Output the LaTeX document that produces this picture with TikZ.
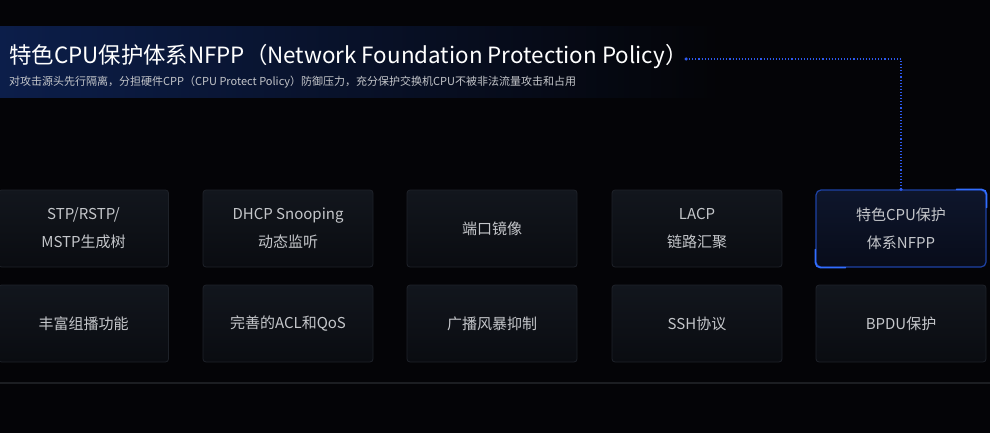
\documentclass[tikz,border=0pt]{standalone}
\usepackage{fontspec}
\setmainfont{Noto Sans CJK SC}
\definecolor{bg}{RGB}{4,4,7}
\definecolor{band}{RGB}{12,30,74}
\definecolor{boxtop}{RGB}{18,22,29}
\definecolor{boxbot}{RGB}{10,12,17}
\definecolor{boxline}{RGB}{30,34,41}
\definecolor{txt}{RGB}{196,198,202}
\definecolor{hidim}{RGB}{30,66,165}
\definecolor{hilite}{RGB}{50,110,255}
\definecolor{hitop}{RGB}{14,22,44}
\definecolor{hibot}{RGB}{8,12,26}
\definecolor{dotblue}{RGB}{45,90,240}
\definecolor{rule}{RGB}{28,30,34}
\tikzset{
  featbox/.style={rectangle, rounded corners=3pt, minimum width=170pt, minimum height=77pt,
    draw=boxline, line width=0.8pt, top color=boxtop, bottom color=boxbot, text=txt,
    font=\fontsize{15}{28}\selectfont, align=center, inner sep=0pt},
  hibox/.style={featbox, rounded corners=5pt, draw=hidim, line width=1.2pt, top color=hitop, bottom color=hibot},
  glow/.style={draw=hilite, line width=1.6pt, rounded corners=5pt, line cap=round},
  link/.style={draw=dotblue, line width=1.1pt, dotted},
  enddot/.style={circle, fill=dotblue, inner sep=0pt, minimum size=3.5pt}
}
\begin{document}
\begin{tikzpicture}[x=1pt,y=-1pt]
\fill[bg] (0,0) rectangle (990,433);
\useasboundingbox (0,0) rectangle (990,433);
\shade[left color=band, right color=bg] (0,27) rectangle (720,98);
\node[anchor=base west, text=white, font=\fontsize{22.4}{22.4}\selectfont, inner sep=0pt] (title) at (9,64)
  {特色CPU保护体系NFPP（Network Foundation Protection Policy）};
\node[anchor=base west, text=txt, font=\fontsize{11}{11}\selectfont, inner sep=0pt] (sub) at (9,86)
  {对攻击源头先行隔离，分担硬件CPP（CPU Protect Policy）防御压力，充分保护交换机CPU不被非法流量攻击和占用};
\node[featbox] (b1) at (83.5,228.5) {STP/RSTP/\\MSTP生成树};
\node[featbox] (b2) at (288,228.5) {DHCP Snooping\\动态监听};
\node[featbox] (b3) at (492,228.5) {端口镜像};
\node[featbox] (b4) at (697,228.5) {LACP\\链路汇聚};
\node[hibox] (b5) at (901,228.5) {特色CPU保护\\体系NFPP};
\draw[glow] ([xshift=-30pt]b5.north east) -- (b5.north east) -- ([yshift=-18pt]b5.north east);
\draw[glow] ([yshift=18pt]b5.south west) -- (b5.south west) -- ([xshift=30pt]b5.south west);
\node[featbox] (c1) at (83.5,323.5) {丰富组播功能};
\node[featbox] (c2) at (288,323.5) {完善的ACL和QoS};
\node[featbox] (c3) at (492,323.5) {广播风暴抑制};
\node[featbox] (c4) at (697,323.5) {SSH协议};
\node[featbox] (c5) at (901,323.5) {BPDU保护};
\coordinate (start) at (686,59);
\node[enddot] at (start) {};
\node[enddot] at (b5.north) {};
\draw[link] (start) -| (b5.north);
\coordinate (ruleL) at (0,383);
\coordinate (ruleR) at (990,383);
\draw[rule, line width=1.5pt] (ruleL) -- (ruleR);
\end{tikzpicture}
\end{document}
